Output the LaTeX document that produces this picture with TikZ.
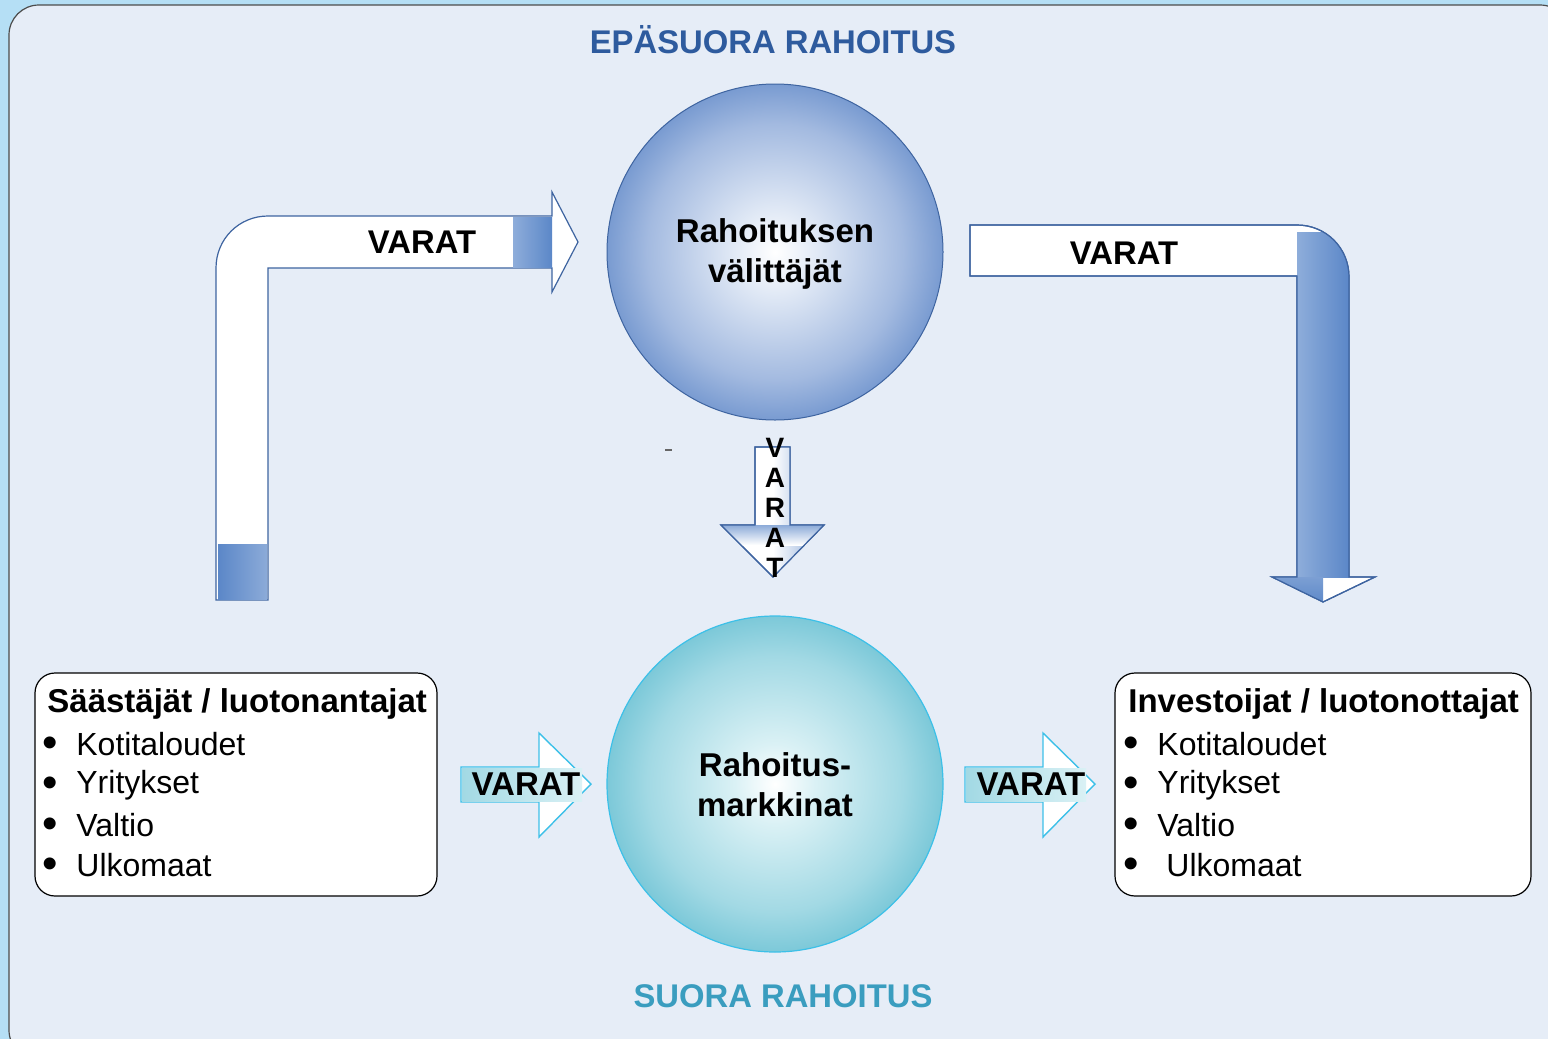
\documentclass[tikz,border=0pt]{standalone}
\usepackage{fontspec}
\setmainfont{Liberation Sans}
\usetikzlibrary{shadings}
\definecolor{outerbg}{HTML}{B5DFF5}
\definecolor{panel}{HTML}{E6EDF7}
\definecolor{titleblue}{HTML}{2E5B9E}
\definecolor{titleteal}{HTML}{3A9DBF}
\definecolor{arrowline}{HTML}{3E64A0}
\definecolor{arrowblue}{HTML}{5B87C8}
\definecolor{arrowlight}{HTML}{8EADDA}
\definecolor{cyanline}{HTML}{3CC0E8}
\definecolor{cbA}{HTML}{E2EAF6}
\definecolor{cbB}{HTML}{A3BAE0}
\definecolor{cbC}{HTML}{4F7CC2}
\definecolor{ctA}{HTML}{DAF1F5}
\definecolor{ctB}{HTML}{A2D9E4}
\definecolor{ctC}{HTML}{56B8CD}
\pgfdeclareradialshading{ballblue}{\pgfpoint{0bp}{0bp}}{color(0bp)=(white); color(6bp)=(cbA); color(19bp)=(cbB); color(31bp)=(cbC); color(50bp)=(cbC)}
\pgfdeclareradialshading{ballteal}{\pgfpoint{0bp}{0bp}}{color(0bp)=(white); color(6bp)=(ctA); color(19bp)=(ctB); color(31bp)=(ctC); color(50bp)=(ctC)}
\tikzset{
  bigtxt/.style={font=\fontsize{16.4}{19}\selectfont\bfseries, inner sep=0pt},
  listtxt/.style={font=\fontsize{16}{19}\selectfont, anchor=west, inner sep=0pt},
  headtxt/.style={font=\fontsize{16.5}{19}\selectfont\bfseries, anchor=west, inner sep=0pt},
  bulletdot/.style={font=\fontsize{22}{19}\selectfont, inner sep=0pt},
  bluearrow/.style={draw=arrowline, line width=0.6pt, fill=white},
  cyanarrow/.style={draw=cyanline, line width=0.7pt, fill=white},
  listbox/.style={draw=black, line width=0.6pt, fill=white, rounded corners=10pt},
}
\begin{document}
\begin{tikzpicture}[x=0.5pt,y=-0.5pt]
\useasboundingbox (0,0) rectangle (1548,1039);
\fill[outerbg] (0,0) rectangle (1548,1039);
\draw[fill=panel, draw=black!70, line width=0.6pt, rounded corners=15pt] (9,5) rectangle (1570,1060);

% titles
\node[bigtxt, text=titleblue] (ttop) at (773,40) {EPÄSUORA RAHOITUS};
\node[bigtxt, text=titleteal] (tbot) at (783,996) {SUORA RAHOITUS};

% circles
\shade[shading=ballblue] (775,252) circle (168);
\draw[arrowline, line width=0.5pt] (775,252) circle (168);
\shade[shading=ballteal] (775,784) circle (168);
\draw[cyanline, line width=0.6pt] (775,784) circle (168);
\node[align=center, font=\fontsize{16.5}{20}\selectfont\bfseries, inner sep=0pt] (c1) at (775,254) {Rahoituksen\\välittäjät};
\node[align=center, font=\fontsize{16.5}{20}\selectfont\bfseries, inner sep=0pt] (c2) at (775,785) {Rahoitus-\\markkinat};

% left bent arrow
\path[bluearrow] (216,600) -- (216,268) .. controls (216,239) and (239,216) .. (268,216) -- (552,216) -- (552,192) -- (578,242) -- (552,292) -- (552,268) -- (268,268) -- (268,600) -- cycle;
\shade[left color=arrowblue, right color=arrowblue!70!white] (218,544) rectangle (267,599);
\shade[left color=arrowlight, right color=arrowblue] (513,217) rectangle (552,267);
\node[bigtxt] (v1) at (422,242) {VARAT};

% right bent arrow
\path[bluearrow] (970,225) -- (1297,225) .. controls (1326,225) and (1349,248) .. (1349,277) -- (1349,577) -- (1375,577) -- (1323,602) -- (1272,577) -- (1297,577) -- (1297,276) -- (970,276) -- cycle;
\begin{scope}
\clip (970,225) -- (1297,225) .. controls (1326,225) and (1349,248) .. (1349,277) -- (1349,577) -- (1375,577) -- (1323,602) -- (1272,577) -- (1297,577) -- (1297,276) -- (970,276) -- cycle;
\shade[left color=arrowlight, right color=arrowblue] (1297,232) rectangle (1349,577);
\shade[top color=arrowblue!80!white, bottom color=arrowblue] (1272,577) rectangle (1323,605);
\end{scope}
\draw[arrowline, line width=0.6pt] (970,225) -- (1297,225) .. controls (1326,225) and (1349,248) .. (1349,277) -- (1349,577) -- (1375,577) -- (1323,602) -- (1272,577) -- (1297,577) -- (1297,276) -- (970,276) -- cycle;
\node[bigtxt] (v2) at (1124,253) {VARAT};

% middle down arrow
\path[bluearrow] (755,447) -- (790,447) -- (790,525) -- (824,525) -- (773,577) -- (721,525) -- (755,525) -- cycle;
\begin{scope}
\clip (755,447) -- (790,447) -- (790,525) -- (824,525) -- (773,577) -- (721,525) -- (755,525) -- cycle;
\shade[left color=white, right color=arrowblue!75!white] (773,447) rectangle (824,577);
\shade[top color=arrowblue!70!white, bottom color=white] (721,525) rectangle (824,545);
\end{scope}
\draw[arrowline, line width=0.6pt] (755,447) -- (790,447) -- (790,525) -- (824,525) -- (773,577) -- (721,525) -- (755,525) -- cycle;
\node[font=\fontsize{14}{15}\selectfont\bfseries, align=center, inner sep=0pt] (v3) at (775,508) {V\\A\\R\\A\\T};
\draw[black!60, line width=0.6pt] (665,450) -- (672,450);

% bottom left arrow
\path[cyanarrow] (461,767) -- (539,767) -- (539,733) -- (591,784) -- (539,837) -- (539,802) -- (461,802) -- cycle;
\shade[left color=ctB, right color=ctA] (462,768) rectangle (582,801);
\node[bigtxt, font=\fontsize{16.5}{18}\selectfont\bfseries] (v4) at (526,784) {VARAT};

% bottom right arrow
\path[cyanarrow] (965,767) -- (1043,767) -- (1043,733) -- (1095,784) -- (1043,837) -- (1043,802) -- (965,802) -- cycle;
\shade[left color=ctB, right color=ctA] (966,768) rectangle (1086,801);
\node[bigtxt, font=\fontsize{16.5}{18}\selectfont\bfseries] (v5) at (1031,784) {VARAT};

% left box
\draw[listbox] (35,673) rectangle (437,896);
\node[headtxt] (lh) at (47,704) {Säästäjät / luotonantajat};
\node[bulletdot] (lb1) at (50,747) {•};
\node[listtxt] (l1) at (76,744) {Kotitaloudet};
\node[bulletdot] (lb2) at (50,787) {•};
\node[listtxt] (l2) at (76,785) {Yritykset};
\node[bulletdot] (lb3) at (50,828) {•};
\node[listtxt] (l3) at (76,825) {Valtio};
\node[bulletdot] (lb4) at (50,868) {•};
\node[listtxt] (l4) at (76,865) {Ulkomaat};

% right box
\draw[listbox] (1115,673) rectangle (1531,896);
\node[headtxt] (rh) at (1128,704) {Investoijat / luotonottajat};
\node[bulletdot] (rb1) at (1131,747) {•};
\node[listtxt] (r1) at (1157,744) {Kotitaloudet};
\node[bulletdot] (rb2) at (1131,787) {•};
\node[listtxt] (r2) at (1157,785) {Yritykset};
\node[bulletdot] (rb3) at (1131,828) {•};
\node[listtxt] (r3) at (1157,825) {Valtio};
\node[bulletdot] (rb4) at (1131,868) {•};
\node[listtxt] (r4) at (1166,865) {Ulkomaat};
\end{tikzpicture}
\end{document}
